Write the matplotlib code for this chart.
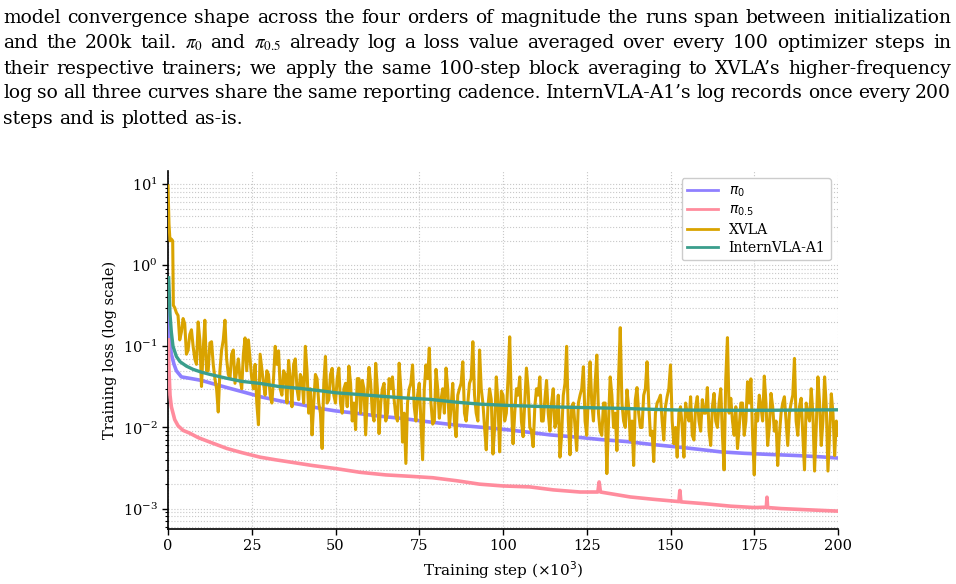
import numpy as np
import matplotlib
matplotlib.use('Agg')
import matplotlib.pyplot as plt

plt.rcParams['font.family'] = ['DejaVu Serif']

# --- Texto del párrafo (captura de página) ---
para_lines = [
    "model convergence shape across the four orders of magnitude the runs span between initialization",
    r"and the 200k tail. $\pi_0$ and $\pi_{0.5}$ already log a loss value averaged over every 100 optimizer steps in",
    "their respective trainers; we apply the same 100-step block averaging to XVLA\u2019s higher-frequency",
    "log so all three curves share the same reporting cadence. InternVLA-A1\u2019s log records once every 200",
    "steps and is plotted as-is.",
]

# --- Datos (paso en miles) ---
pi0_step = [0.1, 0.5, 1, 1.8, 2.5, 4, 7, 10, 13, 17.6, 23, 28, 34, 40, 46, 50, 56, 63, 70,
            78, 86, 93, 100, 107, 114, 122, 129, 137, 144, 152, 158, 165, 172, 180, 188, 195, 200]
pi0_loss = [0.30, 0.12, 0.08, 0.06, 0.05, 0.042, 0.040, 0.038, 0.035, 0.031, 0.027, 0.0237,
            0.0210, 0.0190, 0.0170, 0.0160, 0.0150, 0.0138, 0.0129, 0.0117, 0.0107, 0.0101,
            0.0095, 0.0088, 0.0081, 0.0076, 0.0071, 0.0067, 0.0062, 0.00575, 0.0054, 0.0050,
            0.0048, 0.00464, 0.0045, 0.00434, 0.0042]

pi05_step = [0.1, 0.3, 0.6, 1.0, 1.5, 2, 3, 4.5, 6.5, 9, 12.5, 17.6, 22, 27.5, 32, 37.3, 43,
             50.4, 57.3, 65, 72.2, 79, 86.3, 93, 100, 108, 115, 123, 128.3, 128.7, 129.1, 138,
             145, 152.5, 152.8, 153.1, 160, 168, 175, 178.6, 178.8, 179.0, 183, 190, 200]
pi05_loss = [0.12, 0.05, 0.025, 0.018, 0.015, 0.0125, 0.0105, 0.0092, 0.0085, 0.0075, 0.0066,
             0.0055, 0.0049, 0.0043, 0.0040, 0.0037, 0.0034, 0.0031, 0.0028, 0.0026, 0.0025,
             0.0024, 0.0022, 0.0020, 0.0019, 0.00185, 0.0017, 0.0016, 0.0016, 0.00213, 0.0016,
             0.00139, 0.0013, 0.00122, 0.00167, 0.00121, 0.00115, 0.00107, 0.00103, 0.00104,
             0.00138, 0.00103, 0.0010, 0.00097, 0.00093]

intern_step = [0.2, 0.6, 1.0, 1.5, 2.5, 3.6, 5.5, 7.5, 10, 12.5, 17.6, 22, 27.5, 33, 39.4, 45,
               50.4, 57, 63.3, 70, 78.2, 86, 93, 101, 110, 118, 126, 135, 143, 152, 165, 180,
               190, 200]
intern_loss = [0.70, 0.25, 0.15, 0.10, 0.075, 0.0646, 0.057, 0.052, 0.048, 0.0451, 0.0403,
               0.037, 0.0349, 0.032, 0.0303, 0.0285, 0.0267, 0.0255, 0.0243, 0.0232, 0.0222,
               0.0205, 0.0194, 0.0187, 0.0182, 0.0178, 0.0175, 0.0172, 0.0168, 0.0164, 0.0163,
               0.0163, 0.0164, 0.0165]

# XVLA: valores en pasos enteros (picos y valles leídos) ...
xvla_step = [0, 0.3, 0.6, 1.0, 1.4, 1.6, 2.0, 2.5] + list(range(3, 201))
xvla_loss = [
    9.5, 3.2, 2.0, 2.1, 2.0, 0.32, 0.30, 0.26,
    # 3-12
    0.24, 0.15, 0.19, 0.09, 0.16, 0.07, 0.20, 0.032, 0.21, 0.05,
    # 13-22
    0.114, 0.04, 0.0155, 0.09, 0.21, 0.045, 0.08, 0.035, 0.07, 0.03,
    # 23-32
    0.127, 0.12, 0.04, 0.06, 0.0108, 0.053, 0.025, 0.045, 0.02, 0.10,
    # 33-42
    0.088, 0.025, 0.045, 0.067, 0.018, 0.07, 0.022, 0.04, 0.10, 0.015,
    # 43-52
    0.0081, 0.045, 0.02, 0.0055, 0.075, 0.022, 0.0535, 0.02, 0.054, 0.015,
    # 53-62
    0.035, 0.057, 0.012, 0.0094, 0.04, 0.038, 0.0081, 0.055, 0.015, 0.0617,
    # 63-72
    0.0084, 0.03, 0.012, 0.04, 0.042, 0.014, 0.062, 0.0066, 0.0036, 0.03,
    # 73-82
    0.059, 0.012, 0.035, 0.004, 0.059, 0.095, 0.011, 0.052, 0.013, 0.03,
    # 83-92
    0.054, 0.01, 0.035, 0.0077, 0.03, 0.0645, 0.012, 0.035, 0.114, 0.015,
    # 93-102
    0.09, 0.02, 0.0053, 0.03, 0.0047, 0.042, 0.005, 0.025, 0.015, 0.131,
    # 103-112
    0.0063, 0.03, 0.042, 0.0077, 0.054, 0.01, 0.0058, 0.03, 0.042, 0.012,
    # 113-122
    0.038, 0.009, 0.03, 0.012, 0.0043, 0.025, 0.10, 0.0046, 0.02, 0.0052,
    # 123-132
    0.025, 0.056, 0.008, 0.0645, 0.012, 0.078, 0.009, 0.02, 0.0027, 0.042,
    # 133-142
    0.01, 0.0052, 0.17, 0.012, 0.029, 0.007, 0.0034, 0.031, 0.01, 0.025,
    # 143-152
    0.0645, 0.008, 0.0038, 0.02, 0.025, 0.007, 0.024, 0.059, 0.0063, 0.0043,
    # 153-162
    0.018, 0.0043, 0.015, 0.0239, 0.007, 0.024, 0.009, 0.015, 0.031, 0.006,
    # 163-172
    0.0263, 0.01, 0.03, 0.003, 0.128, 0.0229, 0.008, 0.0055, 0.02, 0.008,
    # 173-182
    0.0366, 0.0397, 0.0026, 0.012, 0.018, 0.043, 0.006, 0.0263, 0.009, 0.0034,
    # 183-192
    0.015, 0.0239, 0.006, 0.02, 0.071, 0.008, 0.0229, 0.003, 0.015, 0.03,
    # 193-200
    0.0029, 0.042, 0.006, 0.042, 0.0029, 0.026, 0.0045, 0.008,
]

# ... y en medios pasos (núcleo de la banda)
xvla_mid_step = [k + 0.5 for k in range(3, 200)]
xvla_mid_loss = [
    0.12, 0.22, 0.08, 0.14, 0.10, 0.06, 0.12, 0.09, 0.05, 0.11,
    0.06, 0.03, 0.05, 0.12, 0.07, 0.04, 0.09, 0.05, 0.04, 0.08,
    0.05, 0.07, 0.03, 0.02, 0.08, 0.035, 0.05, 0.025, 0.04, 0.06,
    0.03, 0.05, 0.02, 0.04, 0.06, 0.03, 0.045, 0.02, 0.05, 0.03,
    0.02, 0.04, 0.015, 0.035, 0.02, 0.045, 0.025, 0.04, 0.02, 0.03,
    0.018, 0.035, 0.02, 0.04, 0.015, 0.03, 0.025, 0.035, 0.012, 0.03,
    0.02, 0.035, 0.015, 0.03, 0.022, 0.012, 0.03, 0.015, 0.02, 0.035,
    0.018, 0.025, 0.012, 0.03, 0.04, 0.02, 0.012, 0.03, 0.022, 0.015,
    0.03, 0.018, 0.012, 0.025, 0.035, 0.015, 0.02, 0.04, 0.025, 0.012,
    0.03, 0.01, 0.018, 0.022, 0.01, 0.02, 0.028, 0.012, 0.04, 0.02,
    0.015, 0.025, 0.012, 0.02, 0.03, 0.009, 0.018, 0.025, 0.012, 0.022,
    0.015, 0.02, 0.01, 0.025, 0.008, 0.035, 0.012, 0.018, 0.01, 0.02,
    0.03, 0.012, 0.025, 0.02, 0.035, 0.015, 0.008, 0.02, 0.012, 0.025,
    0.015, 0.04, 0.02, 0.01, 0.018, 0.012, 0.022, 0.015, 0.01, 0.03,
    0.02, 0.009, 0.015, 0.022, 0.012, 0.018, 0.03, 0.012, 0.01, 0.015,
    0.01, 0.02, 0.012, 0.008, 0.018, 0.012, 0.022, 0.015, 0.009, 0.018,
    0.012, 0.02, 0.008, 0.04, 0.015, 0.012, 0.018, 0.01, 0.02, 0.012,
    0.02, 0.008, 0.015, 0.025, 0.012, 0.02, 0.01, 0.018, 0.012, 0.008,
    0.02, 0.012, 0.015, 0.025, 0.012, 0.018, 0.008, 0.02, 0.012, 0.015,
    0.01, 0.02, 0.012, 0.018, 0.009, 0.015, 0.012,
]

# unir y ordenar por paso
xs = np.array(xvla_step + xvla_mid_step)
ys = np.array(xvla_loss + xvla_mid_loss)
order = np.argsort(xs, kind='stable')
xs, ys = xs[order], ys[order]

colors = {'pi0': '#8f80ff', 'pi05': '#ff8c9d', 'xvla': '#d9a300', 'intern': '#3a9e8c'}

W, H = 956, 584
fig = plt.figure(figsize=(W / 100, H / 100), dpi=100)
ax = fig.add_axes([168 / W, 1 - 529 / H, (838 - 168) / W, (529 - 171) / H])

ax.plot(pi0_step, pi0_loss, color=colors['pi0'], lw=2.6, label=r'$\pi_0$', zorder=3)
ax.plot(pi05_step, pi05_loss, color=colors['pi05'], lw=2.6, label=r'$\pi_{0.5}$', zorder=3)
ax.plot(xs, ys, color=colors['xvla'], lw=2.2, label='XVLA', zorder=4)
ax.plot(intern_step, intern_loss, color=colors['intern'], lw=2.4, label='InternVLA-A1', zorder=5)

ax.set_yscale('log')
ax.set_xlim(0, 200)
ax.set_ylim(5.6e-4, 14.5)
ax.set_xticks([0, 25, 50, 75, 100, 125, 150, 175, 200])
ax.tick_params(labelsize=10.5, length=4, width=1)
ax.tick_params(which='minor', length=2.5, width=0.8)
ax.grid(which='both', linestyle=':', color='#c8c8c8', linewidth=0.8)
ax.set_axisbelow(True)
for s in ['top', 'right']:
    ax.spines[s].set_visible(False)
for s in ['left', 'bottom']:
    ax.spines[s].set_linewidth(1.2)

ax.set_xlabel('Training step (\u00d710$^{3}$)', fontsize=11)
ax.set_ylabel('Training loss (log scale)', fontsize=10.5)
leg = ax.legend(loc='upper right', fontsize=10, handlelength=2.2, framealpha=1,
                edgecolor='#cccccc', borderpad=0.4, labelspacing=0.3)
for line in leg.get_lines():
    line.set_linewidth(2.0)

# --- Párrafo justificado encima del gráfico ---
fig.canvas.draw()
renderer = fig.canvas.get_renderer()
fam = 'DejaVu Serif'


def text_width(s, size):
    t = fig.text(0, 0, s, fontsize=size, family=fam, math_fontfamily='stix')
    w = t.get_window_extent(renderer).width
    t.remove()
    return w


left, right = 3, 951
size = 13.0
size = size * (right - left - 6) / text_width(para_lines[0], size)
baselines = [23, 48.5, 73.5, 98.5, 123.5]
for k, line in enumerate(para_lines):
    words = line.split(' ')
    widths = [text_width(w, size) for w in words]
    if k < len(para_lines) - 1:
        gap = (right - left - sum(widths)) / (len(words) - 1)
    else:
        gap = text_width('a b', size) - text_width('ab', size)
    x = left
    for w, wd in zip(words, widths):
        fig.text(x / W, 1 - baselines[k] / H, w, fontsize=size, family=fam,
                 math_fontfamily='stix', va='baseline', ha='left')
        x += wd + gap

fig.savefig('out.png', dpi=100)
